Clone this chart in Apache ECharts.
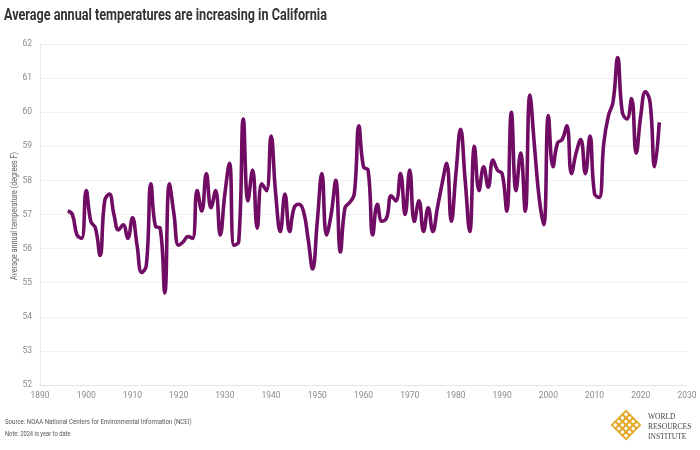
<!DOCTYPE html>
<html>
<head>
<meta charset="utf-8">
<script src="https://cdn.jsdelivr.net/npm/echarts@6/dist/echarts.min.js"></script>
<style>
html,body{margin:0;padding:0;background:#fff;}
#chart{width:700px;height:450px;}
</style>
</head>
<body>
<div id="chart"></div>
<script>
const years = [];
for (let y = 1896; y <= 2024; y++) years.push(y);

const temps = [
  57.1, 57.0, 56.4, 56.3, 57.7, 56.8, 56.6, 55.8, 57.4, 57.6,   // 1896-1905
  57.0, 56.55, 56.7, 56.3, 56.9, 56.1, 55.3, 55.5, 57.9, 56.65, // 1906-1915
  56.6, 54.7, 57.9, 57.0, 56.1, 56.2, 56.35, 56.3, 57.7, 57.1,  // 1916-1925
  58.2, 57.2, 57.7, 56.4, 57.6, 58.5, 56.1, 56.2, 59.8, 57.4,   // 1926-1935
  58.3, 56.6, 57.9, 57.7, 59.3, 57.6, 56.5, 57.6, 56.5, 57.2,   // 1936-1945
  57.3, 57.1, 56.3, 55.4, 56.8, 58.2, 56.4, 57.0, 58.0, 55.9,   // 1946-1955
  57.2, 57.35, 57.6, 59.6, 58.4, 58.3, 56.4, 57.3, 56.8, 56.9,  // 1956-1965
  57.55, 57.4, 58.2, 57.0, 58.3, 56.8, 57.4, 56.5, 57.2, 56.5,  // 1966-1975
  57.2, 57.9, 58.5, 56.8, 58.2, 59.5, 58.0, 56.5, 59.0, 57.7,   // 1976-1985
  58.4, 57.8, 58.6, 58.3, 58.2, 57.1, 60.0, 57.7, 58.8, 57.1,   // 1986-1995
  60.5, 59.0, 57.5, 56.7, 59.9, 58.4, 59.1, 59.2, 59.6, 58.2,   // 1996-2005
  58.8, 59.2, 58.2, 59.3, 57.6, 57.5, 59.1, 59.9, 60.3, 61.6,   // 2006-2015
  60.0, 59.8, 60.4, 58.8, 59.9, 60.6, 60.3, 58.4, 59.7          // 2016-2024
];

const xTicks = [1890, 2030, 10];
const yTicks = [52, 62, 1];

const titleText = 'Average annual temperatures are increasing in California';
const yAxisTitle = 'Average annual temperature (degrees F)';
const sourceText = 'Source: NOAA National Centers for Environmental Information (NCEI)';
const noteText = 'Note: 2024 is year to date';
const logoLines = ['WORLD', 'RESOURCES', 'INSTITUTE'];

const sans = 'Roboto, "Liberation Sans", sans-serif';

const chart = echarts.init(document.getElementById('chart'), null, {renderer: 'canvas'});

// logo lattice (centered on group origin)
const gold = '#e4aa2c';
const lattice = [];
const n = 4, cell = 5, half = n * cell / 2;
for (let i = 0; i < n; i++) {
  for (let j = 0; j < n; j++) {
    lattice.push({
      type: 'rect',
      shape: {x: i * cell - half, y: j * cell - half, width: cell, height: cell},
      style: {fill: 'none', stroke: gold, lineWidth: 1.8}
    });
  }
}

chart.setOption({
  animation: false,
  backgroundColor: '#ffffff',
  grid: {left: 40, right: 13, top: 44, bottom: 65},
  xAxis: {
    type: 'value',
    min: xTicks[0], max: xTicks[1], interval: xTicks[2],
    axisLine: {show: true, lineStyle: {color: '#e4e4e4'}},
    axisTick: {show: false},
    splitLine: {show: false},
    axisLabel: {
      formatter: v => String(v),
      fontFamily: sans, fontSize: 8.5, color: '#8a8a8a', margin: 6
    }
  },
  yAxis: {
    type: 'value',
    min: yTicks[0], max: yTicks[1], interval: yTicks[2],
    axisLine: {show: true, lineStyle: {color: '#ececec'}},
    axisTick: {show: false},
    splitLine: {show: true, lineStyle: {color: '#e0e0e0', type: 'dotted'}},
    axisLabel: {fontFamily: sans, fontSize: 8.5, color: '#8a8a8a', margin: 8}
  },
  series: [{
    type: 'line',
    data: years.map((y, i) => [y, temps[i]]),
    smooth: 0.45,
    showSymbol: false,
    lineStyle: {color: '#710c64', width: 3.6},
    itemStyle: {color: '#710c64'}
  }],
  graphic: [
    {type: 'text', x: 4, y: 16, scaleX: 0.79,
     style: {text: titleText, fontFamily: sans, fontWeight: 'bold', fontSize: 16,
             fill: '#333333', verticalAlign: 'middle', align: 'left'}},
    {type: 'text', x: 15, y: 216, rotation: Math.PI / 2, scaleX: 0.8,
     style: {text: yAxisTitle, fontFamily: sans, fontSize: 9, fill: '#666666',
             align: 'center', verticalAlign: 'middle'}},
    {type: 'text', x: 5, y: 422, scaleX: 0.76,
     style: {text: sourceText, fontFamily: sans, fontSize: 8, fill: '#555555', verticalAlign: 'middle'}},
    {type: 'text', x: 5, y: 434, scaleX: 0.72,
     style: {text: noteText, fontFamily: sans, fontSize: 8, fill: '#555555', verticalAlign: 'middle'}},
    {type: 'group', x: 626, y: 425, rotation: Math.PI / 4, children: lattice},
    {type: 'text', x: 648, y: 417,
     style: {text: logoLines[0], fontFamily: '"Liberation Serif", serif', fontSize: 7.5, fill: '#444444', verticalAlign: 'middle'}},
    {type: 'text', x: 648, y: 427,
     style: {text: logoLines[1], fontFamily: '"Liberation Serif", serif', fontSize: 7.5, fill: '#444444', verticalAlign: 'middle'}},
    {type: 'text', x: 648, y: 437,
     style: {text: logoLines[2], fontFamily: '"Liberation Serif", serif', fontSize: 7.5, fill: '#444444', verticalAlign: 'middle'}}
  ]
});
</script>
</body>
</html>
